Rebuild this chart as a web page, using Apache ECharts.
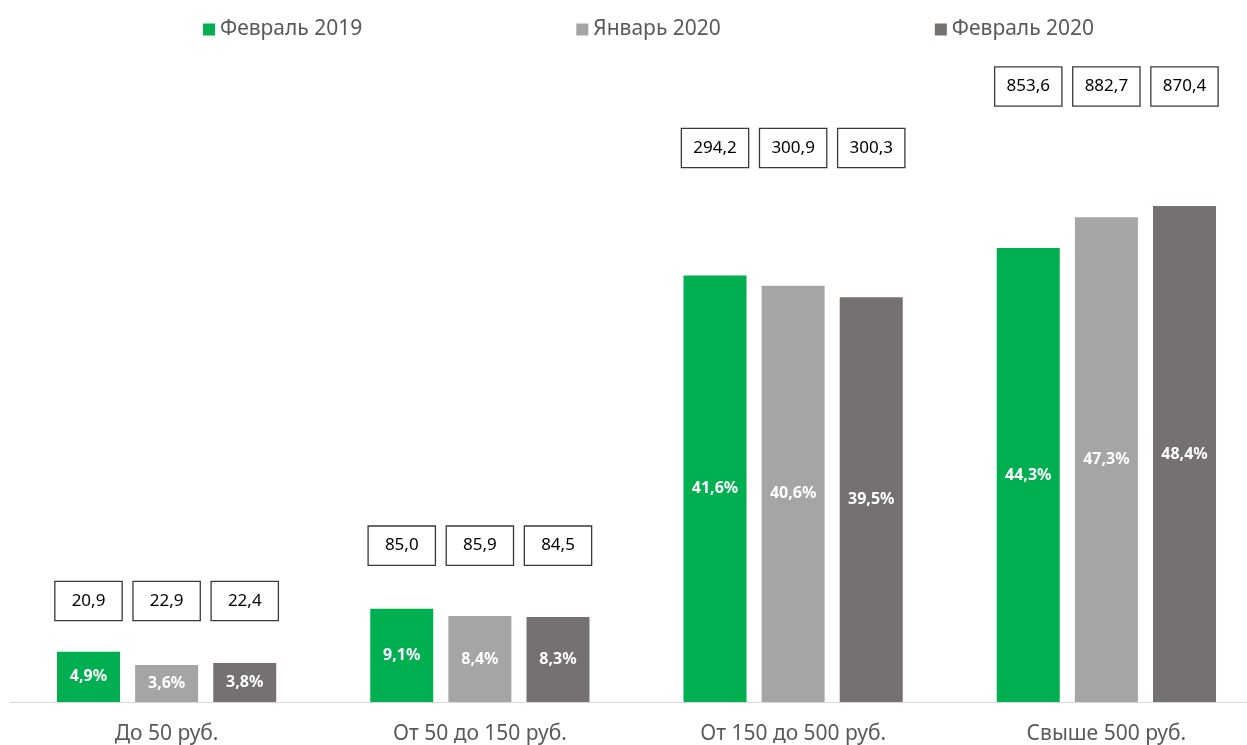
<!DOCTYPE html>
<html>
<head>
<meta charset="utf-8">
<script src="https://cdn.jsdelivr.net/npm/echarts@6/dist/echarts.min.js"></script>
<style>
html,body{margin:0;padding:0;background:#fff;overflow:hidden;width:1247px;height:745px;}
#chart{width:1264px;height:745px;}
</style>
</head>
<body>
<div id="chart"></div>
<script>
// ---- data ----
const categories = ['До 50 руб.', 'От 50 до 150 руб.', 'От 150 до 500 руб.', 'Свыше 500 руб.'];
const seriesNames = ['Февраль 2019', 'Январь 2020', 'Февраль 2020'];
const sharesFeb2019 = [4.9, 9.1, 41.6, 44.3];
const sharesJan2020 = [3.6, 8.4, 40.6, 47.3];
const sharesFeb2020 = [3.8, 8.3, 39.5, 48.4];
const amountsFeb2019 = [20.9, 85.0, 294.2, 853.6];
const amountsJan2020 = [22.9, 85.9, 300.9, 882.7];
const amountsFeb2020 = [22.4, 84.5, 300.3, 870.4];

// ---- layout (value-box anchor levels, in axis units) ----
const boxLevel = [8.0, 13.4, 52.2, 58.2];

const colors = ['#00B050', '#A5A5A5', '#767171'];
const FONT = 'Noto Sans';
const fmt = v => v.toFixed(1).replace('.', ',');

const shares = [sharesFeb2019, sharesJan2020, sharesFeb2020];
const amounts = [amountsFeb2019, amountsJan2020, amountsFeb2020];

const series = [];
shares.forEach((arr, k) => {
  series.push({
    name: seriesNames[k],
    type: 'bar',
    stack: 's' + k,
    barWidth: 63,
    barGap: '24%',
    data: arr,
    itemStyle: { color: colors[k] },
    label: {
      show: true,
      position: 'inside',
      formatter: p => fmt(p.value) + '%',
      color: '#fff',
      fontFamily: FONT,
      fontWeight: 'bold',
      fontSize: 16
    },
    emphasis: { disabled: true }
  });
});
shares.forEach((arr, k) => {
  series.push({
    name: 'box' + k,
    type: 'bar',
    stack: 's' + k,
    barWidth: 63,
    barGap: '24%',
    silent: true,
    data: arr.map((v, i) => boxLevel[i] - v),
    itemStyle: { color: 'rgba(0,0,0,0)' },
    label: {
      show: true,
      position: 'top',
      distance: 0,
      formatter: p => fmt(amounts[k][p.dataIndex]),
      color: '#000',
      fontFamily: FONT,
      fontSize: 17,
      width: 66,
      align: 'center',
      lineHeight: 20,
      padding: [9, 0, 9, 0],
      backgroundColor: '#fff',
      borderColor: '#3a3a3a',
      borderWidth: 1.3
    },
    emphasis: { disabled: true }
  });
});

const chart = echarts.init(document.getElementById('chart'), null, { renderer: 'canvas' });
chart.setOption({
  animation: false,
  backgroundColor: '#fff',
  color: colors,
  legend: {
    data: seriesNames,
    left: 203,
    top: 19,
    padding: 0,
    itemWidth: 12,
    itemHeight: 12,
    itemGap: 214,
    icon: 'rect',
    textStyle: { color: '#595959', fontFamily: FONT, fontSize: 21 }
  },
  grid: { left: 10, top: 46, width: 1253, height: 656, containLabel: false },
  xAxis: {
    type: 'category',
    data: categories,
    axisLine: { lineStyle: { color: '#D9D9D9', width: 1 } },
    axisTick: { show: false },
    axisLabel: { color: '#595959', fontFamily: FONT, fontSize: 21, margin: 22 }
  },
  yAxis: {
    type: 'value',
    min: 0,
    max: 64,
    show: false,
    splitLine: { show: false }
  },
  series: series
});
</script>
</body>
</html>
